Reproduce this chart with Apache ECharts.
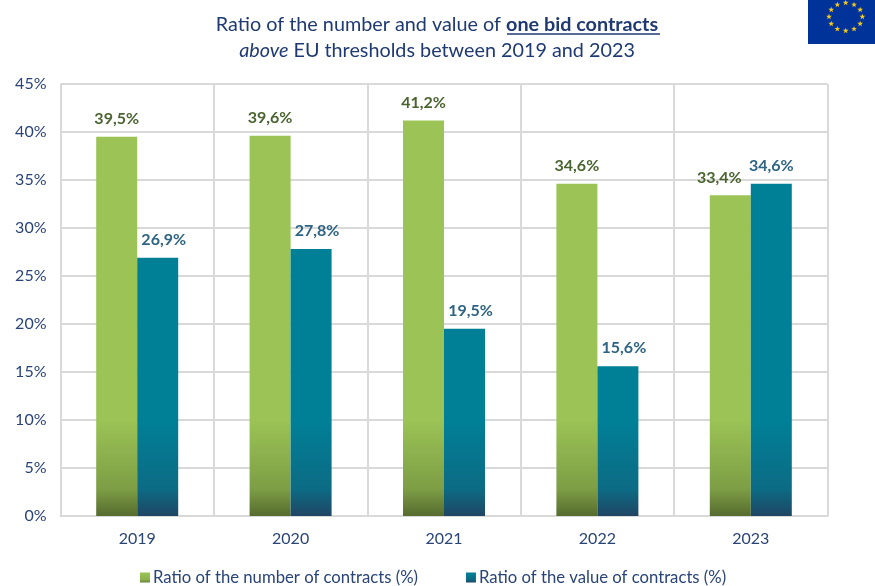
<!DOCTYPE html>
<html><head><meta charset="utf-8">
<script src="https://cdn.jsdelivr.net/npm/echarts@6/dist/echarts.min.js"></script>
<style>html,body{margin:0;padding:0;background:#fff}#c{width:875px;height:586px}</style>
</head><body><div id="c"></div>
<script>
const categories = ['2019','2020','2021','2022','2023'];
const numberRatio = [39.5,39.6,41.2,34.6,33.4];
const valueRatio = [26.9,27.8,19.5,15.6,34.6];
const nameNumber = 'Ratio of the number of contracts (%)';
const nameValue = 'Ratio of the value of contracts (%)';
const F = 'Lato';
const fmt = p => p.value.toFixed(1).replace('.',',') + '%';
const grad = (a,b,c) => new echarts.graphic.LinearGradient(0,420,0,516,[{offset:0,color:a},{offset:.72,color:b},{offset:1,color:c}],true);
const greenFill = grad('#9BC355','#7D9E45','#566B2E');
const tealFill = grad('#008097','#0C6B84','#1F4664');
function starPts(cx,cy,R){const p=[];for(let i=0;i<10;i++){const r=i%2?R*.42:R,t=-Math.PI/2+i*Math.PI/5;p.push([cx+r*Math.cos(t),cy+r*Math.sin(t)]);}return p;}
const stars=[];
for(let i=0;i<12;i++){const t=i*Math.PI/6;stars.push({type:'polygon',z:11,shape:{points:starPts(845.7+16.7*Math.sin(t),16.8-14*Math.cos(t),3)},style:{fill:'#F2C81E'}});}
const chart = echarts.init(document.getElementById('c'),null,{renderer:'canvas'});
chart.setOption({
  animation:false,
  title:{left:432,textAlign:'center',top:7,
    text:'{a|Ratio of the number and value of }{b|one bid contracts}\n{i|above}{a| EU thresholds between 2019 and 2023}',
    textStyle:{fontWeight:'normal',rich:{
      a:{fontFamily:F,fontSize:19.8,fontWeight:'normal',color:'#1F3A73',lineHeight:26},
      b:{fontFamily:F,fontSize:19.8,color:'#1F3A73',fontWeight:'bold',lineHeight:26},
      i:{fontFamily:F,fontSize:19.8,color:'#1F3A73',fontWeight:'normal',fontStyle:'italic',lineHeight:26}}}},
  legend:{top:564,left:135,itemWidth:10,itemHeight:10,itemGap:48,icon:'rect',
    textStyle:{fontFamily:F,fontSize:16.7,color:'#2A4478',padding:[0,0,0,-2]},
    data:[
      {name:nameNumber,itemStyle:{color:new echarts.graphic.LinearGradient(0,0,0,1,[{offset:0,color:'#9BC355'},{offset:.7,color:'#8DB24E'},{offset:1,color:'#66803A'}])}},
      {name:nameValue,itemStyle:{color:new echarts.graphic.LinearGradient(0,0,0,1,[{offset:0,color:'#008097'},{offset:.7,color:'#0C6B84'},{offset:1,color:'#1F4664'}])}}]},
  grid:{left:60.5,right:47.5,top:84,bottom:70,containLabel:false},
  xAxis:{type:'category',data:categories,
    axisTick:{show:false},
    axisLine:{lineStyle:{color:'#D9D9D9',width:2}},
    splitLine:{show:true,lineStyle:{color:'#D9D9D9',width:2}},
    axisLabel:{fontFamily:F,fontSize:16,color:'#2A4478',margin:15}},
  yAxis:{type:'value',min:0,max:45,interval:5,
    axisLine:{show:false},axisTick:{show:false},
    splitLine:{lineStyle:{color:'#D9D9D9',width:2}},
    axisLabel:{fontFamily:F,fontSize:16,color:'#2A4478',margin:14,formatter:'{value}%'}},
  series:[
    {name:nameNumber,type:'bar',barWidth:41,barGap:0,itemStyle:{color:greenFill},
     data:numberRatio.map((v,i)=>i===4?{value:v,label:{offset:[-11,0]}}:v),
     label:{show:true,position:'top',distance:10,formatter:fmt,fontFamily:F,fontSize:16,fontWeight:'bold',color:'#4A6430'}},
    {name:nameValue,type:'bar',barWidth:41,itemStyle:{color:tealFill},
     data:valueRatio.map((v,i)=>i===4?v:{value:v,label:{offset:[6,0]}}),
     label:{show:true,position:'top',distance:10,formatter:fmt,fontFamily:F,fontSize:16,fontWeight:'bold',color:'#2E6483'}}
  ],
  graphic:[
    {type:'line',z:10,shape:{x1:507,y1:34,x2:660,y2:34},style:{stroke:'#1F3A73',lineWidth:1.5}},
    {type:'rect',z:10,shape:{x:808,y:0,width:67,height:44},style:{fill:'#003399'}},
    ...stars
  ]
});
</script></body></html>
